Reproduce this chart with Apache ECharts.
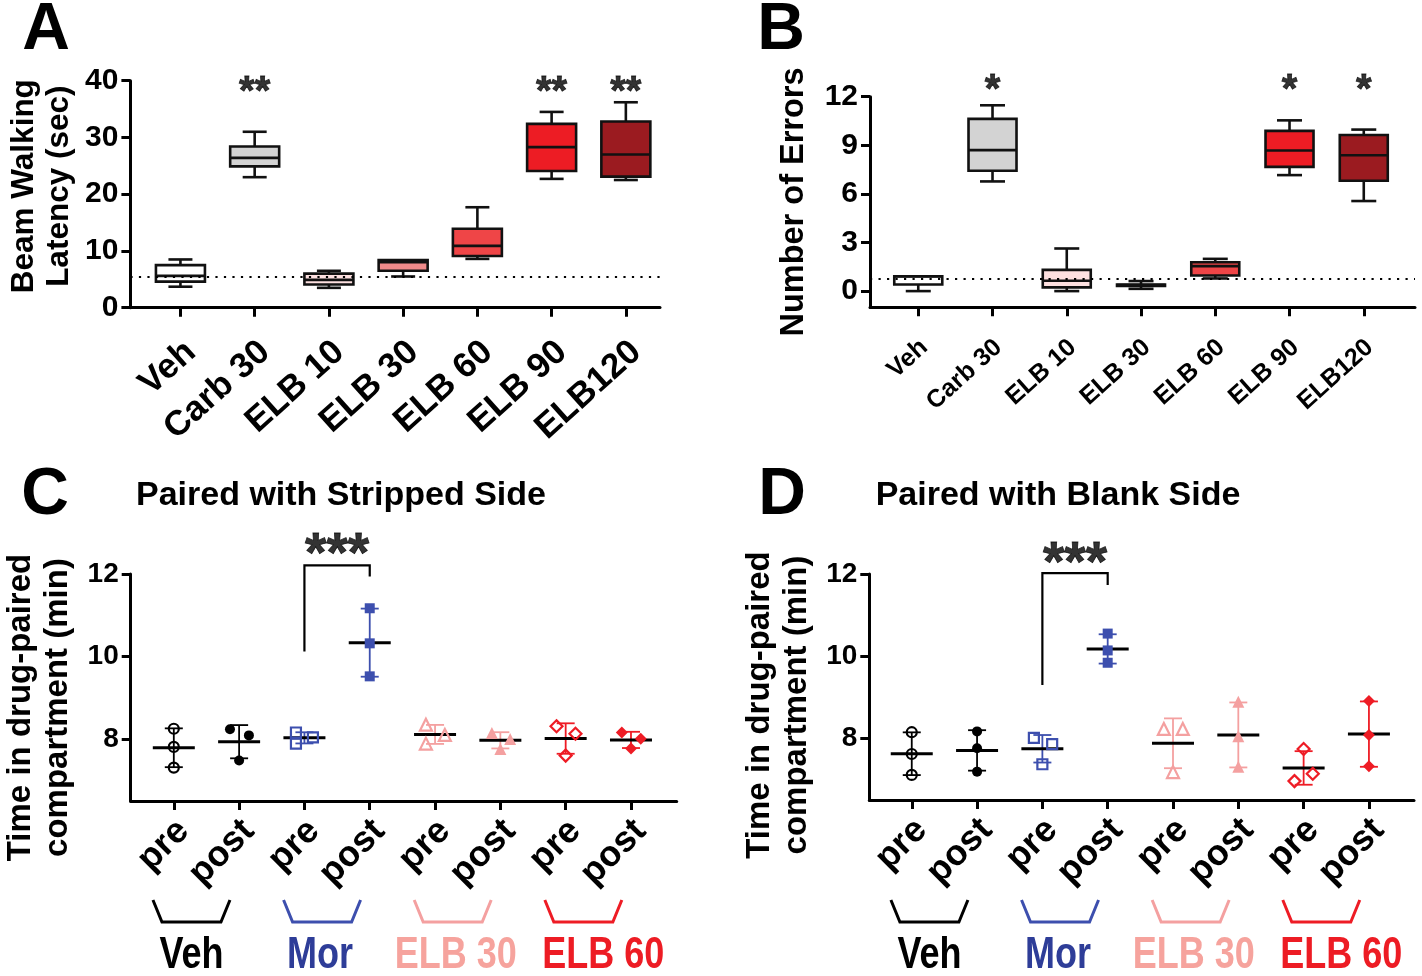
<!DOCTYPE html>
<html><head><meta charset="utf-8">
<script src="https://cdn.jsdelivr.net/npm/echarts@6/dist/echarts.min.js"></script>
<style>html,body{margin:0;padding:0;background:#fff}#c{width:1422px;height:976px}</style>
</head><body><div id="c"></div>
<script>
const FONT = "'Liberation Sans', Arial, Helvetica, sans-serif";

// ---------- Panels A & B : box plots ----------
const boxCats = ['Veh', 'Carb 30', 'ELB 10', 'ELB 30', 'ELB 60', 'ELB 90', 'ELB120'];
const boxColors = ['#ffffff', '#d3d3d3', '#fde0e0', '#f08a8a', '#ef4547', '#ed1c24', '#9b1b20'];

// A: Beam walking latency (sec)
const latMin = [3.7, 23.0, 3.5, 5.5, 8.6, 22.7, 22.5];
const latQ1  = [4.6, 24.9, 4.1, 6.5, 9.1, 24.1, 23.1];
const latMed = [5.6, 26.4, 4.9, 8.0, 10.9, 28.3, 27.0];
const latQ3  = [7.5, 28.4, 6.0, 8.4, 13.9, 32.4, 32.8];
const latMax = [8.5, 31.0, 6.5, 8.4, 17.7, 34.5, 36.2];
const latBaseline = 5.4;
const latSig = ['', '**', '', '', '', '**', '**'];
const latSigY = 37.8;
const latTicks = [0, 10, 20, 30, 40];

// B: Number of errors
const errMin = [0.0, 6.77, 0.0, 0.14, 0.78, 7.16, 5.56];
const errQ1  = [0.41, 7.43, 0.23, 0.32, 0.96, 7.67, 6.81];
const errMed = [0.9, 8.70, 0.64, 0.37, 1.54, 8.68, 8.39];
const errQ3  = [0.92, 10.63, 1.31, 0.40, 1.78, 9.89, 9.64];
const errMax = [0.92, 11.47, 2.63, 0.62, 1.99, 10.54, 9.97];
const errBaseline = 0.78;
const errSig = ['', '*', '', '', '', '*', '*'];
const errSigY = 12.38;
const errTicks = [0, 3, 6, 9, 12];

// ---------- Panels C & D : CPP scatter ----------
const cppLabels = ['pre', 'post', 'pre', 'post', 'pre', 'post', 'pre', 'post'];
const groupNames = ['Veh', 'Mor', 'ELB 30', 'ELB 60'];
const groupColors = ['#000000', '#3d4fae', '#f4a0a0', '#ee1c25'];
const groupTextColors = ['#000000', '#2e3d98', '#f6a39d', '#ed1c24'];
const groupLabelShift = [0, -2, 3, 20];
const cppSymbols = ['circle', 'circle', 'rect', 'rect', 'triangle', 'triangle', 'diamond', 'diamond'];
const cppFilled = [false, true, false, true, false, true, false, true];
const cppTicks = [8, 10, 12];

// C: Paired with stripped side (min)
const strVehPre   = [8.25, 7.81, 7.31];
const strVehPost  = [8.24, 8.09, 7.48];
const strMorPre   = [8.16, 7.89, 8.04];
const strMorPost  = [11.17, 10.32, 9.52];
const strElb30Pre = [8.35, 7.89, 8.10];
const strElb30Post= [8.15, 8.00, 7.76];
const strElb60Pre = [8.31, 8.13, 7.60];
const strElb60Post= [8.16, 8.01, 7.77];
const strJitter = [[0,0,0],[-0.14,0.15,0],[-0.13,-0.13,0.13],[0,0,0],[-0.14,-0.14,0.15],[-0.13,0.15,0],[-0.14,0.15,0],[-0.14,0.15,0]];
const strBracket = [3, 4, 10.12, 12.21, 11.94];
const strSig = [3.5, 12.43, '***'];

// D: Paired with blank side (min)
const blkVehPre   = [8.15, 7.62, 7.11];
const blkVehPost  = [8.17, 7.76, 7.19];
const blkMorPre   = [8.01, 7.86, 7.37];
const blkMorPost  = [10.55, 10.14, 9.84];
const blkElb30Pre = [8.23, 8.23, 7.18];
const blkElb30Post= [8.89, 8.05, 7.31];
const blkElb60Pre = [7.74, 7.14, 6.96];
const blkElb60Post= [8.91, 8.08, 7.32];
const blkJitter = [[0,0,0],[0,0,0],[-0.13,0.15,0],[0,0,0],[-0.14,0.15,0],[0,0,0],[0,0.14,-0.14],[0,0,0]];
const blkBracket = [3, 4, 9.30, 12.02, 11.73];
const blkSig = [3.5, 12.22, '***'];

const strGroups = [strVehPre, strVehPost, strMorPre, strMorPost, strElb30Pre, strElb30Post, strElb60Pre, strElb60Post];
const blkGroups = [blkVehPre, blkVehPost, blkMorPre, blkMorPost, blkElb30Pre, blkElb30Post, blkElb60Pre, blkElb60Post];

// ---------- helpers ----------
const chart = echarts.init(document.getElementById('c'), null, {renderer: 'canvas'});

function boxData(mn, q1, md, q3, mx) {
  return boxCats.map((c, i) => [i + 1, mn[i], q1[i], md[i], q3[i], mx[i]]);
}
function seg(x1, y1, x2, y2, color, w) {
  return {type: 'line', shape: {x1, y1, x2, y2}, style: {stroke: color, lineWidth: w, lineCap: 'butt'}};
}
function makeBoxRender(boxW, capW) {
  return function (params, api) {
    const x = api.value(0);
    const p = [1, 2, 3, 4, 5].map(d => api.coord([x, api.value(d)]));
    const cx = p[0][0], h = boxW / 2, c = capW / 2, lw = 2.6, k = '#111';
    const ch = [];
    if (p[4][1] < p[3][1] - 0.5) { ch.push(seg(cx, p[4][1], cx, p[3][1], k, lw)); ch.push(seg(cx - c, p[4][1], cx + c, p[4][1], k, lw)); }
    if (p[0][1] > p[1][1] + 0.5) { ch.push(seg(cx, p[1][1], cx, p[0][1], k, lw)); ch.push(seg(cx - c, p[0][1], cx + c, p[0][1], k, lw)); }
    ch.push({type: 'rect', shape: {x: cx - h, y: p[3][1], width: 2 * h, height: Math.max(p[1][1] - p[3][1], 1)},
      style: {fill: boxColors[params.dataIndex], stroke: k, lineWidth: lw}});
    ch.push(seg(cx - h, p[2][1], cx + h, p[2][1], k, lw));
    return {type: 'group', children: ch};
  };
}
function mean(a) { return a.reduce((s, v) => s + v, 0) / a.length; }
function sd(a) { const m = mean(a); return Math.sqrt(a.reduce((s, v) => s + (v - m) * (v - m), 0) / (a.length - 1)); }

function errRender(params, api) {
  const x = api.value(0), m = api.value(1), s = api.value(2);
  const gi = Math.floor(params.dataIndex / 2);
  const col = groupColors[gi];
  const top = api.coord([x, m + s]), bot = api.coord([x, m - s]), mid = api.coord([x, m]);
  const cx = mid[0];
  return {type: 'group', children: [
    seg(cx, top[1], cx, bot[1], col, 1.8),
    seg(cx - 9, top[1], cx + 9, top[1], col, 1.8),
    seg(cx - 9, bot[1], cx + 9, bot[1], col, 1.8),
    seg(cx - 21, mid[1], cx + 21, mid[1], '#000', 3)
  ]};
}
function bracketRender(params, api) {
  const a = api.coord([api.value(0), api.value(2)]);
  const t1 = api.coord([api.value(0), api.value(3)]);
  const t2 = api.coord([api.value(1), api.value(3)]);
  const b = api.coord([api.value(1), api.value(4)]);
  return {type: 'polyline', shape: {points: [a, t1, t2, b]}, style: {stroke: '#000', lineWidth: 2.2, fill: null}};
}

function xAxisDef(gi, min, max, labels, fs, rot, margin, lh) {
  const vals = labels.map((l, i) => i + 1);
  return {
    gridIndex: gi, type: 'value', min, max,
    axisLine: {onZero: false, lineStyle: {color: '#000', width: 3}},
    axisTick: {customValues: vals, length: 9, lineStyle: {color: '#000', width: 3}},
    axisLabel: {customValues: vals, rotate: rot, margin, verticalAlign: 'top', lineHeight: lh, color: '#000',
      fontFamily: FONT, fontWeight: 'bold', fontSize: fs,
      formatter: v => labels[Math.round(v) - 1] || ''},
    splitLine: {show: false}
  };
}
function yAxisDef(gi, min, max, ticks, name, gap, pad, fs, nfs) {
  return {
    gridIndex: gi, type: 'value', min, max,
    name, nameLocation: 'middle', nameGap: gap, nameRotate: 90,
    nameTextStyle: {fontFamily: FONT, fontWeight: 'bold', fontSize: nfs, lineHeight: nfs + 4, color: '#000', padding: pad},
    axisLine: {onZero: false, lineStyle: {color: '#000', width: 3}},
    axisTick: {customValues: ticks, length: 9, lineStyle: {color: '#000', width: 3}},
    axisLabel: {customValues: ticks, margin: 12, color: '#000', fontFamily: FONT, fontWeight: 'bold', fontSize: fs},
    splitLine: {show: false}
  };
}
function sigSeries(xi, yi, pts, fs, baseline) {
  const s = {
    type: 'scatter', xAxisIndex: xi, yAxisIndex: yi, clip: false, z: 5,
    symbolSize: 1, itemStyle: {color: 'rgba(0,0,0,0)'},
    label: {show: true, position: 'inside', formatter: p => p.data[2], color: '#000',
      textBorderColor: '#000', textBorderWidth: 0.8,
      fontFamily: FONT, fontWeight: 'bold', fontSize: fs},
    data: pts
  };
  if (baseline != null) {
    s.markLine = {silent: true, symbol: ['none', 'none'], label: {show: false},
      lineStyle: {color: '#000', type: [2.2, 6.3], width: 2.2}, data: [{yAxis: baseline}]};
  }
  return s;
}
function cppSeries(ai, groups, jit) {
  const out = [];
  out.push({
    type: 'custom', xAxisIndex: ai, yAxisIndex: ai, z: 2, clip: false,
    renderItem: errRender, encode: {x: 0, y: 1},
    data: groups.map((g, i) => [i + 1, mean(g), sd(g)])
  });
  groups.forEach((g, i) => {
    const col = groupColors[Math.floor(i / 2)];
    const sym = cppSymbols[i];
    const size = sym === 'circle' ? 10 : sym === 'rect' ? 10 : 12;
    out.push({
      type: 'scatter', xAxisIndex: ai, yAxisIndex: ai, z: 3, symbol: sym, symbolSize: size,
      itemStyle: cppFilled[i] ? {color: col, opacity: 1} : {color: 'rgba(255,255,255,0)', borderColor: col, borderWidth: 2.2, opacity: 1},
      data: g.map((v, k) => [i + 1 + jit[i][k], v])
    });
  });
  return out;
}

const series = [
  {type: 'custom', xAxisIndex: 0, yAxisIndex: 0, renderItem: makeBoxRender(49, 24),
    encode: {x: 0, y: [1, 2, 3, 4, 5]}, data: boxData(latMin, latQ1, latMed, latQ3, latMax), z: 3},
  sigSeries(0, 0, latSig.map((s, i) => [i + 1, latSigY, s]).filter(d => d[2]), 40, latBaseline),
  {type: 'custom', xAxisIndex: 1, yAxisIndex: 1, renderItem: makeBoxRender(48, 25),
    encode: {x: 0, y: [1, 2, 3, 4, 5]}, data: boxData(errMin, errQ1, errMed, errQ3, errMax), z: 3},
  sigSeries(1, 1, errSig.map((s, i) => [i + 1, errSigY, s]).filter(d => d[2]), 40, errBaseline),
  ...cppSeries(2, strGroups, strJitter),
  ...cppSeries(3, blkGroups, blkJitter),
  {type: 'custom', xAxisIndex: 2, yAxisIndex: 2, clip: false, renderItem: bracketRender, encode: {x: [0, 1], y: [2, 3, 4]}, data: [strBracket]},
  {type: 'custom', xAxisIndex: 3, yAxisIndex: 3, clip: false, renderItem: bracketRender, encode: {x: [0, 1], y: [2, 3, 4]}, data: [blkBracket]},
  sigSeries(2, 2, [strSig], 55),
  sigSeries(3, 3, [blkSig], 55)
];

chart.setOption({
  animation: false,
  backgroundColor: '#ffffff',
  grid: [
    {left: 130.4, top: 80.7, width: 529.6, height: 227},
    {left: 870, top: 96.7, width: 545, height: 210.6},
    {left: 130.7, top: 574, width: 546, height: 227},
    {left: 869.3, top: 574, width: 544.7, height: 226}
  ],
  xAxis: [
    xAxisDef(0, 0.326, 7.46, boxCats, 35, 42, 28, 31),
    xAxisDef(1, 0.35, 7.69, boxCats, 25, 42, 30, 18),
    xAxisDef(2, 0.34, 8.70, cppLabels, 36, 45, 15, 27),
    xAxisDef(3, 0.35, 8.69, cppLabels, 36, 45, 15, 27)
  ],
  yAxis: [
    yAxisDef(0, 0, 40, latTicks, 'Beam Walking\nLatency (sec)', 53, [0, 0, 0, 16], 30, 31.5),
    yAxisDef(1, -1, 12, errTicks, 'Number of Errors', 58, [0, 0, 0, 0], 30, 32.5),
    yAxisDef(2, 6.5, 12, cppTicks, 'Time in drug-paired\ncompartment (min)', 54, [0, 40, 0, 0], 28, 33),
    yAxisDef(3, 6.5, 12, cppTicks, 'Time in drug-paired\ncompartment (min)', 54, [0, 36, 0, 0], 28, 33)
  ],
  series
});

// ---------- annotations (letters, titles, group brackets) ----------
const gfx = [];
function txt(text, x, y, size, color, scaleX) {
  gfx.push({type: 'text', x, y, scaleX: scaleX || 1, silent: true,
    style: {text, fill: color, font: 'bold ' + size + 'px ' + FONT, textAlign: 'center', textVerticalAlign: 'middle'}});
}
[['A', 46, 31], ['B', 781, 31], ['C', 45, 496], ['D', 782, 496]].forEach(l => txt(l[0], l[1], l[2], 66, '#000'));
txt('Paired with Stripped Side', 341, 496, 34, '#000');
txt('Paired with Blank Side', 1058, 496, 34, '#000');
[2, 3].forEach(ai => {
  groupNames.forEach((name, g) => {
    const cx = chart.convertToPixel({xAxisIndex: ai}, 2 * g + 1.5) - 15;
    gfx.push({type: 'polyline', silent: true,
      shape: {points: [[cx - 38.5, 900], [cx - 29.5, 922], [cx + 29.5, 922], [cx + 38.5, 900]]},
      style: {stroke: groupColors[g], lineWidth: 3, fill: null}});
    txt(name, cx + groupLabelShift[g], 956, 45, groupTextColors[g], 0.8);
  });
});
chart.setOption({graphic: {elements: gfx}});
</script></body></html>
